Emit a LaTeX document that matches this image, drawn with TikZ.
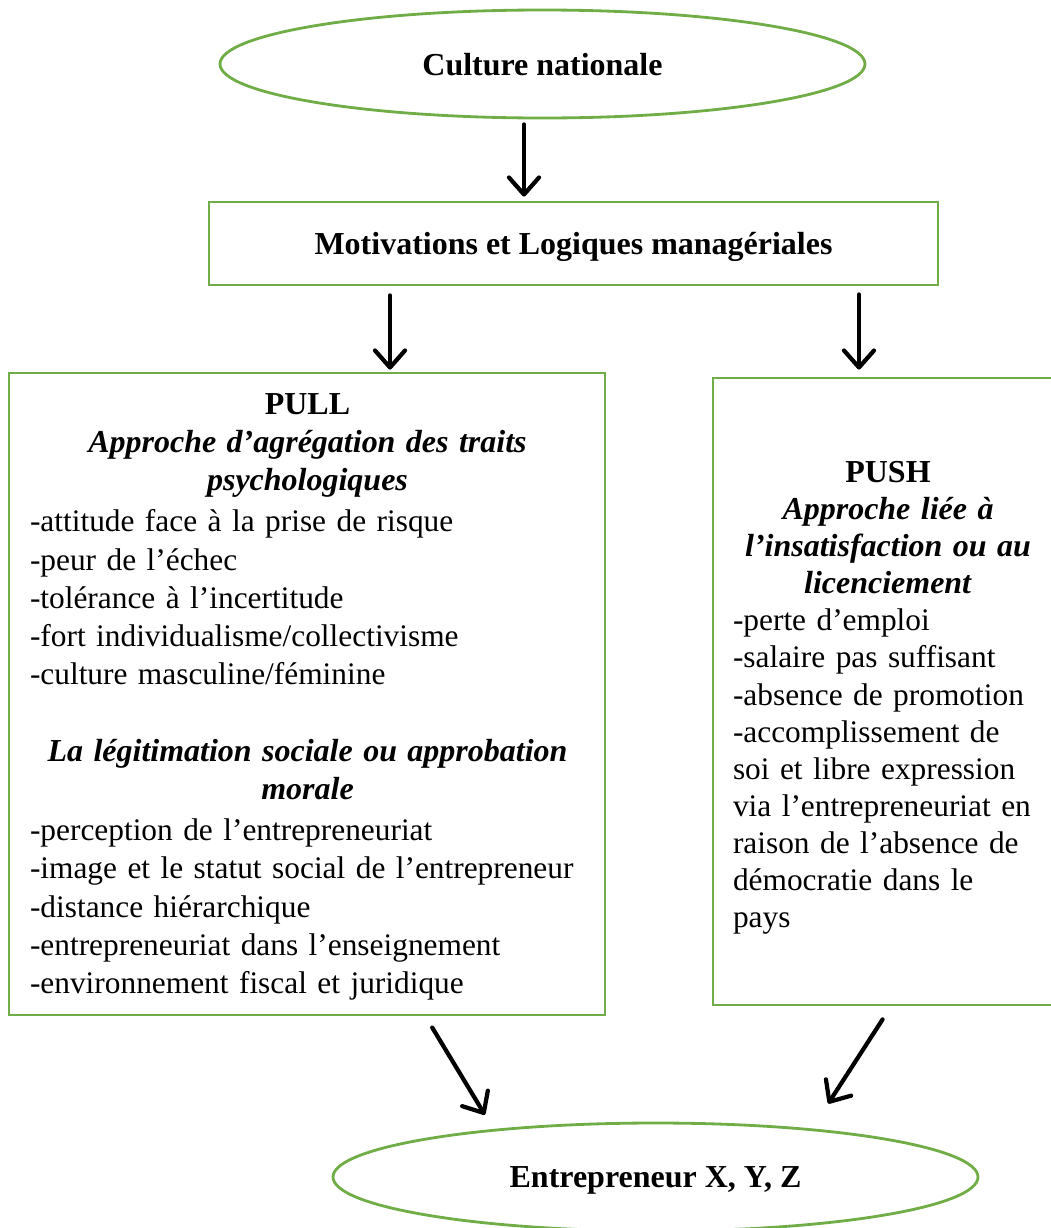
\documentclass[tikz,border=0pt]{standalone}
\usepackage{fontspec}
\setmainfont{Liberation Serif}
\usetikzlibrary{arrows.meta,shapes.geometric}
\definecolor{vertcadre}{RGB}{112,173,71}
\begin{document}
\begin{tikzpicture}[
        ovale/.style={ellipse, draw=vertcadre, line width=1.6pt, minimum width=12.9cm, minimum height=2.16cm, inner sep=0pt},
        boite/.style={rectangle, draw=vertcadre, line width=1.6pt, inner sep=0pt},
        gros/.style={font=\fontsize{18.2}{21.7}\selectfont\bfseries, text depth=0pt},
        texte/.style={align=left, inner sep=0pt, anchor=north},
        fleche/.style={-{Straight Barb[round,length=0.34cm,width=0.6cm]}, line width=2.4pt, line cap=round}]
        \useasboundingbox (0,0) rectangle (21.02,-24.56);
        \node[ovale, gros] (culture) at (10.85,-1.28) {Culture nationale};
        \node[boite, gros, minimum width=14.58cm, minimum height=1.66cm] (motiv) at (11.47,-4.87) {Motivations et Logiques managériales};
        \node[boite, minimum width=11.92cm, minimum height=12.84cm] (pull) at (6.14,-13.88) {};
        \node[boite, minimum width=6.88cm, minimum height=12.54cm] (push) at (17.70,-13.83) {};
        \node[ovale, gros] (entre) at (13.11,-23.54) {Entrepreneur X, Y, Z};
            \node[texte, text width=11.1cm, font=\fontsize{17.85}{21.75}\selectfont] (pulltxt) at (6.15,-7.86) {{\centering\fontsize{18.2}{21.75}\selectfont\textbf{PULL}\\
                \textbf{\textit{Approche d’agrégation des traits}}\\
                \textbf{\textit{psychologiques}}\par}
                \vspace{1.7pt}
                -attitude face à la prise de risque\\
                -peur de l’échec\\
                -tolérance à l’incertitude\\
                -fort individualisme/collectivisme\\
                -culture masculine/féminine\par
                \vspace{\baselineskip}
                {\centering\fontsize{18.2}{21.75}\selectfont\textbf{\textit{La légitimation sociale ou approbation}}\\
                \textbf{\textit{morale}}\par}
                \vspace{1.7pt}
                -perception de l’entrepreneuriat\\
                -image et le statut social de l’entrepreneur\\
                -distance hiérarchique\\
                -entrepreneuriat dans l’enseignement\\
                -environnement fiscal et juridique};
            \node[texte, text width=6.2cm, font=\fontsize{17.85}{21.1}\selectfont] (pushtxt) at (17.76,-9.22) {{\centering\fontsize{18.2}{21.1}\selectfont\textbf{PUSH}\\
                \textbf{\textit{Approche liée à}}\\
                \textbf{\textit{l’insatisfaction ou au}}\\
                \textbf{\textit{licenciement}}\par}
                -perte d’emploi\\
                -salaire pas suffisant\\
                -absence de promotion\\
                -accomplissement de\\
                soi et libre expression\\
                via l’entrepreneuriat en\\
                raison de l’absence de\\
                démocratie dans le\\
                pays};
        \coordinate (f1) at (10.48,0);
        \coordinate (f2) at (7.8,0);
        \coordinate (f3) at (17.18,0);
        \coordinate (f4) at (8.51,0);
        \coordinate (f5) at (9.78,0);
        \coordinate (f6) at (17.82,0);
        \coordinate (f7) at (16.33,0);
            \draw[fleche, shorten <=0.1cm, shorten >=0.08cm] (culture.south -| f1) -- (motiv.north -| f1);
            \draw[fleche, shorten <=0.18cm, shorten >=0.04cm] (motiv.south -| f2) -- (pull.north -| f2);
            \draw[fleche, shorten <=0.16cm, shorten >=0.14cm] (motiv.south -| f3) -- (push.north -| f3);
            \draw[fleche, shorten <=0.26cm, shorten >=0.16cm] (pull.south -| f4) -- (entre.north -| f5);
            \draw[fleche, shorten <=0.31cm, shorten >=0.43cm] (push.south -| f6) -- (entre.north -| f7);
\end{tikzpicture}
\end{document}
